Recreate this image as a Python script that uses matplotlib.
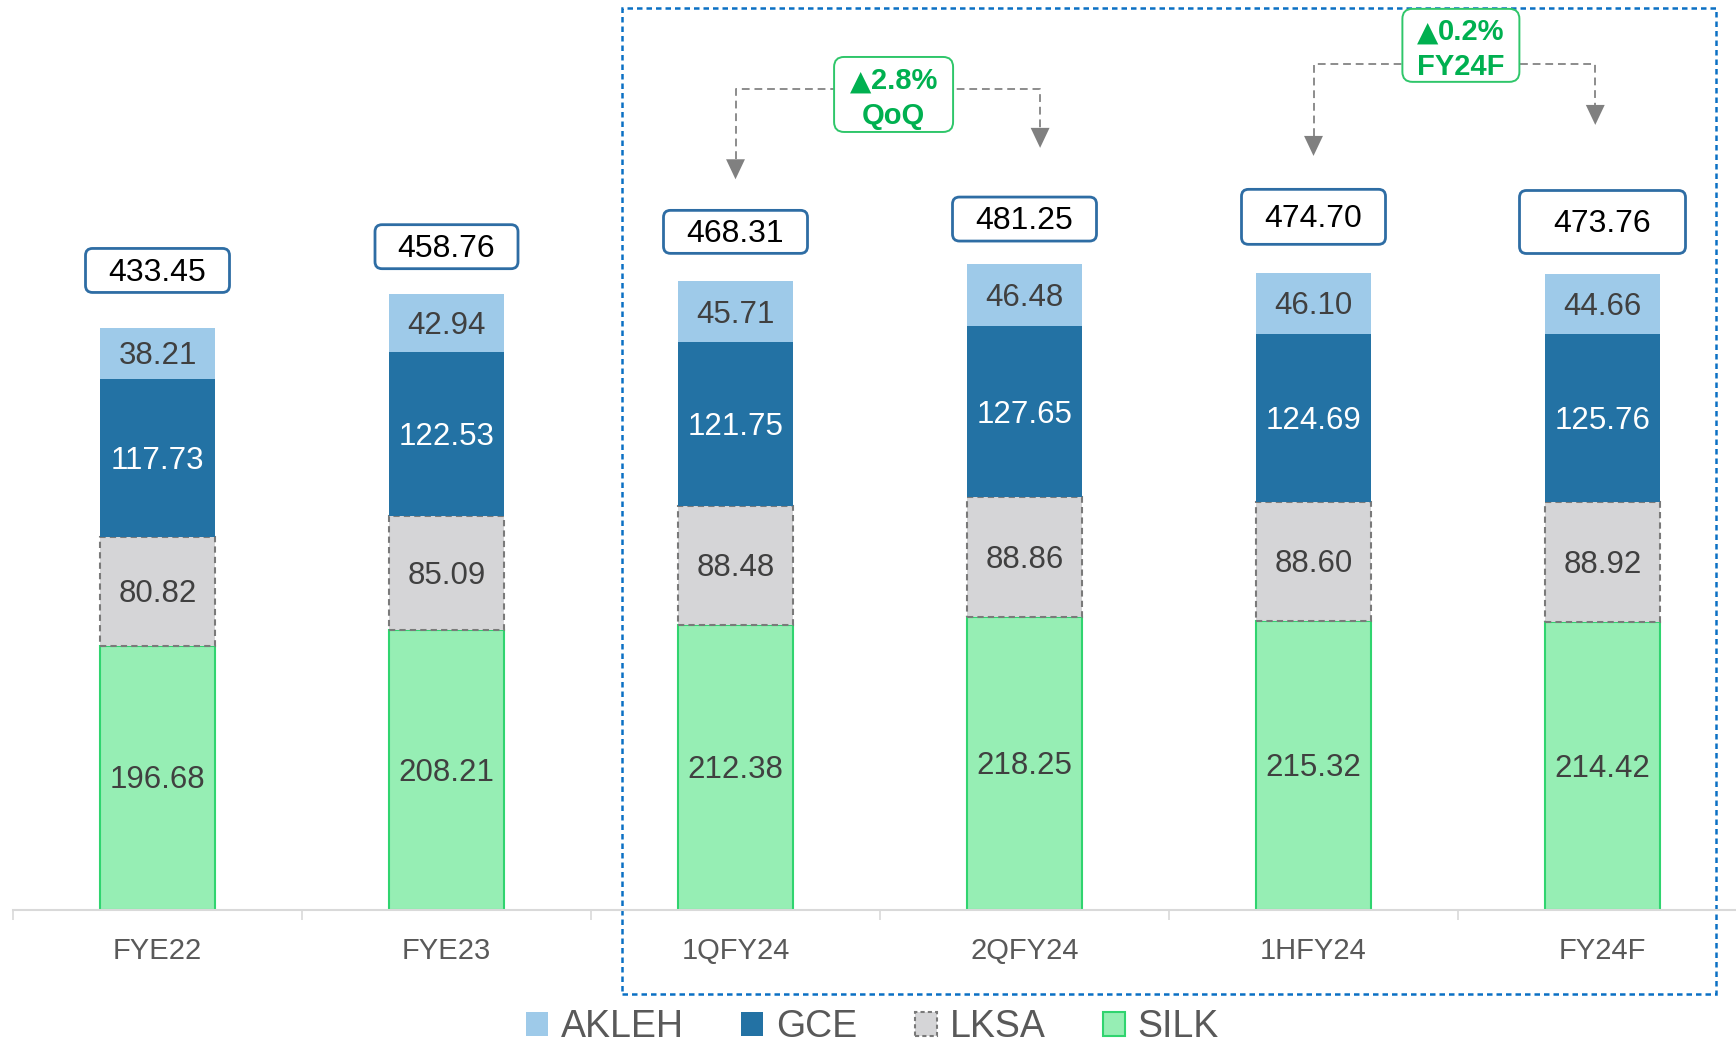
import matplotlib
matplotlib.use("Agg")
import matplotlib.pyplot as plt
import matplotlib.transforms as mtransforms
from matplotlib.patches import FancyBboxPatch, Rectangle, Patch
from matplotlib import font_manager
import numpy as np

# ---------------- data ----------------
categories = ["FYE22", "FYE23", "1QFY24", "2QFY24", "1HFY24", "FY24F"]
series_names = ["SILK", "LKSA", "GCE", "AKLEH"]
silk = [196.68, 208.21, 212.38, 218.25, 215.32, 214.42]
lksa = [80.82, 85.09, 88.48, 88.86, 88.60, 88.92]
gce = [117.73, 122.53, 121.75, 127.65, 124.69, 125.76]
akleh = [38.21, 42.94, 45.71, 46.48, 46.10, 44.66]
totals = [433.45, 458.76, 468.31, 481.25, 474.70, 473.76]
growth_values = ["2.8%", "0.2%"]
growth_periods = ["QoQ", "FY24F"]
growth_from = [2, 4]
growth_to = [3, 5]

# ---------------- style ----------------
names = {f.name for f in font_manager.fontManager.ttflist}
REG = "Liberation Sans"
NARROW = "Liberation Sans Narrow" if "Liberation Sans Narrow" in names else REG
plt.rcParams["font.family"] = [REG, "DejaVu Sans"]

colors = {"AKLEH": "#9ECAE9", "GCE": "#2372A4", "LKSA": "#D5D5D7", "SILK": "#96EEB4"}
label_colors = {"AKLEH": "#404040", "GCE": "white", "LKSA": "#404040", "SILK": "#404040"}

W, H = 1736, 1046
fig = plt.figure(figsize=(W / 100, H / 100), dpi=100)
ax = fig.add_axes([13 / W, 136.5 / H, 1734 / W, 1 - 136.5 / H])
ax.set_xlim(-0.5, 5.5)
ax.set_ylim(0, 677.8)

seg_fs = 22.5
seg_trans = mtransforms.offset_copy(ax.transData, fig=fig, x=0, y=-0.35 * seg_fs * 100 / 72, units="dots")

x = np.arange(len(categories))
bw = 0.4
stack = {"SILK": silk, "LKSA": lksa, "GCE": gce, "AKLEH": akleh}
bottom = np.zeros(len(categories))
for name in series_names:
    vals = np.array(stack[name])
    kw = dict(color=colors[name], width=bw, bottom=bottom, zorder=2)
    if name == "LKSA":
        kw.update(edgecolor="#7A7A7A", linewidth=1.5, linestyle=(0, (3, 2)))
    elif name == "SILK":
        kw.update(edgecolor="#30D46F", linewidth=1.5)
    else:
        kw.update(linewidth=0)
    ax.bar(x, vals, **kw)
    for xi, b, v in zip(x, bottom, vals):
        ax.text(xi, b + v / 2, f"{v:.2f}", ha="center", va="baseline", transform=seg_trans,
                fontsize=seg_fs, color=label_colors[name], zorder=4)
    bottom = bottom + vals

# axes styling
for s in ["top", "right", "left"]:
    ax.spines[s].set_visible(False)
ax.spines["bottom"].set_color("#D9D9D9")
ax.spines["bottom"].set_linewidth(1.5)
ax.set_yticks([])
ax.set_xticks(x)
ax.set_xticklabels(categories, fontsize=21, color="#595959")
ax.tick_params(axis="x", which="major", length=0, pad=19.5)
ax.set_xticks(np.arange(-0.5, 6, 1), minor=True)
ax.tick_params(axis="x", which="minor", length=7.2, width=1.2, color="#D9D9D9")

fig.canvas.draw()
renderer = fig.canvas.get_renderer()
to_px = ax.transData.transform
ident = mtransforms.IdentityTransform()

# total boxes
tot_fs = 23
tot_trans = mtransforms.offset_copy(ax.transData, fig=fig, x=0, y=-0.35 * tot_fs * 100 / 72 + 1, units="dots")
total_offsets = [42.8, 35.2, 36.7, 33.3, 41.5, 38.6]
box_sizes = [(144, 44), (143, 44), (144, 43), (144, 44), (144, 55), (166, 63)]
for xi, t, off, (bwp, bhp) in zip(x, totals, total_offsets, box_sizes):
    cy = t + off
    px, py = to_px((xi, cy))
    ax.add_artist(FancyBboxPatch((px - bwp / 2, py - bhp / 2), bwp, bhp,
                                 boxstyle="round,pad=0,rounding_size=7",
                                 transform=ident, facecolor="white", clip_on=False,
                                 edgecolor="#2E6DA4", linewidth=2.0, zorder=5))
    ax.text(xi, cy, f"{t:.2f}", ha="center", va="baseline", fontsize=tot_fs,
            transform=tot_trans, color="black", zorder=6)

# growth annotations
line_y = [611.5, 630.0]
left_tip = [544.2, 561.6]
right_dx = [0.054, -0.025]
right_tip = [567.6, 584.7]
gbox_center = [(2.547, 607.4), (4.510, 644.0)]
gbox_size = [(119, 75), (117, 73)]
gray = "#8C8C8C"
green = "#00B050"
g_fs = 21
for i in range(2):
    xl = growth_from[i]
    xr = growth_to[i] + right_dx[i]
    ly = line_y[i]
    head_len = 20 / 1.3417
    ax.plot([xl, xl, xr, xr], [left_tip[i] + head_len, ly, ly, right_tip[i] + head_len],
            color=gray, lw=1.4, linestyle=(0, (4, 2.5)), zorder=3, clip_on=False)
    for xa, tip in [(xl, left_tip[i]), (xr, right_tip[i])]:
        ax.annotate("", xy=(xa, tip), xytext=(xa, tip + head_len),
                    arrowprops=dict(arrowstyle="-|>,head_length=0.72,head_width=0.34",
                                    color="#808080", lw=0, mutation_scale=20,
                                    shrinkA=0, shrinkB=0), zorder=3)
    cx, cy = gbox_center[i]
    px, py = to_px((cx, cy))
    gw, gh = gbox_size[i]
    ax.add_artist(FancyBboxPatch((px - gw / 2, py - gh / 2), gw, gh,
                                 boxstyle="round,pad=0,rounding_size=10",
                                 transform=ident, facecolor="white", clip_on=False,
                                 edgecolor="#2FC66A", linewidth=1.4, zorder=5))
    # line 1: triangle + value
    tri = ax.text(0, 0, "\u25B2", transform=ident, fontsize=g_fs * 0.95, fontweight="bold",
                  color=green, family=["DejaVu Sans"], ha="left", va="baseline", zorder=6)
    val = ax.text(0, 0, growth_values[i], transform=ident, fontsize=g_fs, fontweight="bold",
                  color=green, ha="left", va="baseline", zorder=6)
    tw = tri.get_window_extent(renderer).width
    vw = val.get_window_extent(renderer).width
    start = px - (tw + vw) / 2
    base1 = py + 5
    tri.set_position((start, base1))
    val.set_position((start + tw, base1))
    ax.text(px, py - 30, growth_periods[i], transform=ident, fontsize=g_fs, fontweight="bold",
            color=green, ha="center", va="baseline", zorder=6)

# blue dashed frame
ax.add_patch(Rectangle((1.607, -63.0), 5.393 - 1.607, 672.1 + 63.0, fill=False,
                       edgecolor="#0A70C4", linewidth=1.8, linestyle=(0, (2.2, 1.6)),
                       clip_on=False, zorder=1))

# legend
handles = [
    Patch(facecolor=colors["AKLEH"], edgecolor="none", label="AKLEH"),
    Patch(facecolor=colors["GCE"], edgecolor="none", label="GCE"),
    Patch(facecolor=colors["LKSA"], edgecolor="#7A7A7A", linestyle=(0, (2, 1.5)), linewidth=1.5, label="LKSA"),
    Patch(facecolor=colors["SILK"], edgecolor="#30D46F", linewidth=1.5, label="SILK"),
]
if NARROW != REG:
    leg_size, hl, tp, cs = 31, 0.51, 0.3, 1.5
else:
    leg_size, hl, tp, cs = 27, 0.587, 0.35, 1.52
leg = fig.legend(handles=handles, loc="center", bbox_to_anchor=(0.5026, 0.018), ncol=4,
                 frameon=False, handlelength=hl, handleheight=hl, handletextpad=tp,
                 columnspacing=cs, borderpad=0, borderaxespad=0,
                 prop={"family": [NARROW, "DejaVu Sans"], "size": leg_size})
for t in leg.get_texts():
    t.set_color("#595959")

fig.savefig("out.png", dpi=100)
